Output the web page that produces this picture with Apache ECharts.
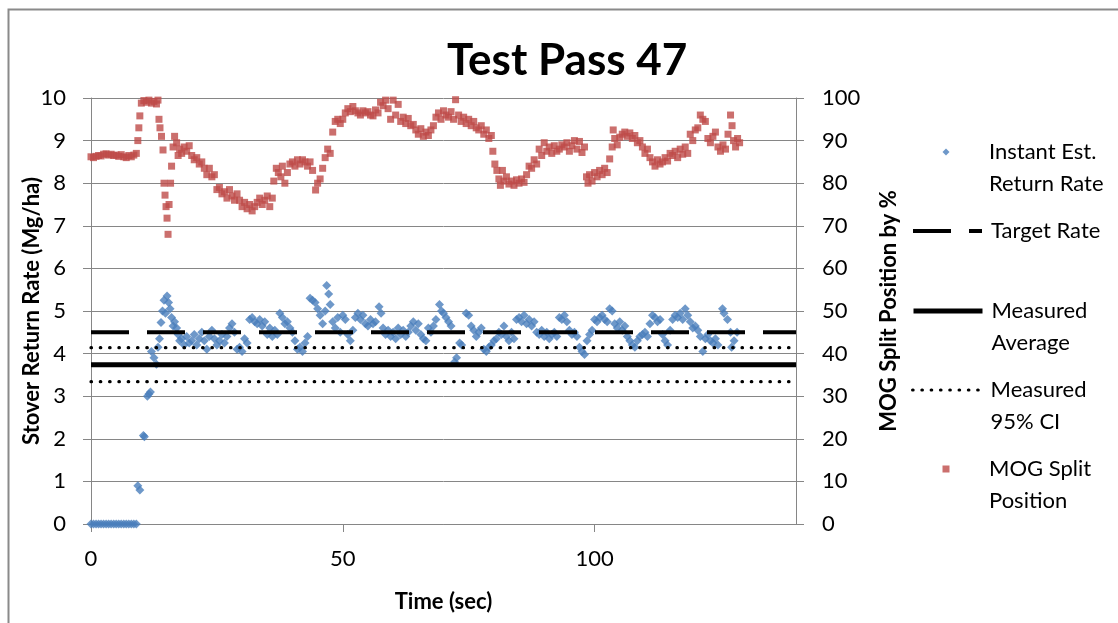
<!DOCTYPE html>
<html>
<head>
<meta charset="utf-8">
<script src="https://cdn.jsdelivr.net/npm/echarts@6/dist/echarts.min.js"></script>
<style>
html,body{margin:0;padding:0;background:#fff;}
#chart{width:1118px;height:623px;}
</style>
</head>
<body>
<div id="chart"></div>
<script>
// ---- Data ----
const chartTitle = 'Test Pass 47';
const xTickValues = [0, 50, 100];
const xRange = [0, 140];
const leftRange = [0, 10];
const rightRange = [0, 100];

const targetRate = 4.5;
const measuredAverage = 3.74;
const measuredCI = [3.34, 4.14];

// [time (s), stover return rate (Mg/ha)]
const instantRate = [
  [0,0],[0.5,0],[1,0],[1.5,0],[2,0],[2.5,0],[3,0],[3.5,0],[4,0],[4.5,0],[5,0],[5.5,0],[6,0],[6.5,0],[7,0],[7.5,0],[8,0],[8.5,0],[9,0],
  [9.3,0.9],[9.7,0.8],[10.4,2.08],[10.6,2.05],[11.2,3.0],[11.5,3.05],[11.8,3.1],
  [12.0,4.05],[12.5,3.9],[13.0,3.75],[13.3,4.15],[13.6,4.35],[13.9,4.73],[14.2,5.0],[14.5,5.25],[14.8,4.95],[15.1,5.35],[15.4,5.2],[15.7,5.05],
  [16.0,4.85],[16.3,4.65],[16.6,4.75],[17.0,4.6],[17.3,4.45],[17.6,4.3],[18,4.35],[18.5,4.2],[19,4.4],[19.5,4.25],[20,4.3],[20.5,4.45],
  [21,4.2],[21.5,4.35],[22,4.5],[22.5,4.3],[23,4.1],[23.5,4.4],[24,4.55],[24.5,4.35],[25,4.2],[25.5,4.3],[26,4.45],[26.5,4.25],[27,4.4],
  [27.5,4.6],[28,4.7],[28.5,4.5],[29,4.1],[29.5,4.15],[30,4.05],[30.5,4.35],[31,4.25],[31.5,4.8],[32,4.85],[32.5,4.75],[33,4.7],[33.5,4.8],
  [34,4.65],[34.5,4.75],[35,4.45],[35.5,4.6],[36,4.4],[36.5,4.55],[37,4.45],[37.5,4.95],[38,4.85],[38.5,4.7],[39,4.75],[39.5,4.6],[40,4.5],
  [40.5,4.3],[41,4.1],[41.5,4.15],[42,4.05],[42.5,4.25],[43,4.4],[43.5,5.3],[44,5.25],[44.5,5.2],[45,5.05],[45.5,4.9],[46,4.7],[46.5,5.0],
  [46.8,5.6],[47.2,5.4],[47.5,5.15],[48,4.75],[48.5,4.6],[49,4.85],[49.5,4.5],[50,4.9],[50.5,4.8],[51,4.45],[51.5,4.3],[52,4.55],[52.5,4.85],
  [53,4.95],[53.5,4.8],[54,4.9],[54.5,4.7],[55,4.65],[55.5,4.8],[56,4.7],[56.5,4.75],[57.2,5.1],[57.6,4.95],[58,4.6],[58.5,4.45],[59,4.55],
  [59.5,4.4],[60,4.5],[60.5,4.35],[61,4.6],[61.5,4.45],[62,4.55],[62.5,4.4],[63,4.5],[63.5,4.65],[64,4.75],[64.5,4.55],[65,4.7],[65.5,4.45],
  [66,4.35],[66.5,4.3],[67,4.6],[67.5,4.5],[68,4.65],[68.5,4.8],[69.2,5.15],[69.6,5.0],[70,4.95],[70.5,4.85],[71,4.75],[71.5,4.65],[72.2,3.8],
  [72.6,3.9],[73.2,4.25],[73.6,4.2],[74.5,4.95],[75,4.9],[75.5,4.65],[76,4.55],[76.5,4.4],[77,4.5],[77.5,4.6],[78,4.1],[78.5,4.05],[79,4.15],
  [79.5,4.2],[80,4.3],[80.5,4.35],[81,4.5],[81.5,4.45],[82,4.65],[82.5,4.4],[83,4.3],[83.5,4.5],[84,4.35],[84.5,4.8],[85,4.85],[85.5,4.75],
  [86,4.9],[86.5,4.7],[87,4.8],[87.5,4.65],[88,4.75],[88.5,4.5],[89,4.45],[89.5,4.55],[90,4.4],[90.5,4.5],[91,4.35],[91.5,4.45],[92,4.5],
  [92.5,4.4],[93,4.85],[93.5,4.8],[94,4.9],[94.5,4.75],[95,4.55],[95.5,4.45],[96,4.5],[96.5,4.4],[97,4.15],[97.5,4.05],[98,3.98],[98.5,4.3],
  [99,4.45],[99.5,4.55],[100,4.8],[100.5,4.75],[101,4.85],[101.5,4.9],[102,4.8],[102.5,4.75],[103,5.05],[103.5,5.0],[104,4.7],[104.5,4.6],
  [105,4.75],[105.5,4.55],[106,4.65],[106.5,4.4],[107,4.3],[107.5,4.2],[108,4.15],[108.5,4.3],[109,4.4],[109.5,4.45],[110,4.5],[110.5,4.4],
  [111,4.7],[111.5,4.9],[112,4.85],[112.5,4.75],[113,4.8],[113.5,4.45],[114,4.3],[114.5,4.2],[115,4.55],[115.5,4.8],[116,4.9],[116.5,4.85],
  [117,4.95],[117.5,4.8],[118,5.05],[118.5,4.9],[119,4.75],[119.5,4.6],[120,4.65],[120.5,4.55],[121,4.4],[121.5,4.05],[122,4.35],[122.5,4.45],
  [123,4.3],[123.5,4.25],[124,4.35],[124.5,4.2],[125.4,5.05],[125.7,4.95],[126.4,4.8],[127,4.5],[127.2,4.15],[127.7,4.3],[128.3,4.5]
];

// [time (s), MOG split position (%)]
const mogSplit = [
  [0,86.2],[0.5,86.0],[1,86.3],[1.5,86.5],[2,86.4],[2.5,86.8],[3,86.9],[3.5,86.6],[4,86.8],[4.5,86.5],[5,86.6],[5.5,86.3],[6,86.7],[6.5,86.2],
  [7,86.0],[7.5,86.5],[8,86.2],[8.5,86.6],[9,87.0],[9.3,90.0],[9.5,93.0],[9.7,95.8],[10,98.8],[10.5,99.4],[11,99.0],[11.5,99.5],[12,98.8],
  [12.5,99.2],[13,98.6],[13.3,99.5],[13.5,95.0],[13.7,93.0],[14,91.0],[14.3,87.8],[14.5,80.0],[14.7,77.2],[14.9,74.5],[15.1,71.8],[15.3,68.0],
  [15.5,75.0],[15.8,80.0],[16,84.0],[16.3,88.5],[16.6,91.0],[17,89.5],[17.3,86.5],[17.6,88.0],[18,87.0],[18.5,88.5],[19,87.5],[19.5,88.8],
  [20,86.5],[20.5,85.5],[21,86.0],[21.5,84.5],[22,85.0],[22.5,83.5],[23,82.0],[23.5,83.5],[24,81.5],[24.5,82.0],[25,78.5],[25.5,79.0],
  [26,77.5],[26.5,78.0],[27,76.5],[27.5,78.5],[28,77.0],[28.5,76.0],[29,77.5],[29.5,76.0],[30,74.5],[30.5,75.5],[31,74.0],[31.5,75.0],
  [32,73.5],[32.5,74.5],[33,75.5],[33.5,76.5],[34,75.0],[34.5,76.0],[35,77.0],[35.5,74.5],[36,76.5],[36.3,80.5],[36.8,83.5],[37.2,82.5],
  [37.7,81.5],[38,84.0],[38.5,80.0],[39,82.5],[39.5,84.5],[40,85.0],[40.5,84.0],[41,85.5],[41.5,84.5],[42,85.5],[42.5,85.0],[43,84.0],
  [43.5,85.0],[44,83.0],[44.6,78.4],[45,80.0],[45.5,81.0],[46,83.5],[46.5,86.0],[47,88.0],[47.5,87.0],[48,92.0],[48.5,94.5],[49,95.0],
  [49.5,94.0],[50,95.0],[50.5,96.5],[51,97.5],[51.5,96.8],[52,98.0],[52.5,97.0],[53,96.5],[53.5,96.0],[54,97.0],[54.5,96.5],[55,96.8],
  [55.5,96.0],[56,95.8],[56.5,97.2],[57,96.5],[57.5,99.0],[58,98.2],[58.5,99.5],[59,97.5],[59.5,95.0],[60,99.5],[60.5,96.0],[61,98.5],
  [61.5,94.5],[62,95.5],[62.5,94.0],[63,95.2],[63.5,93.5],[64,93.8],[64.5,92.5],[65,91.5],[65.5,92.8],[66,91.0],[66.5,92.0],[67,91.2],
  [67.5,92.5],[68,93.5],[68.5,95.5],[69,96.5],[69.5,95.0],[70,97.0],[70.5,96.0],[71,95.5],[71.5,96.8],[72,95.0],[72.4,99.6],[73,96.0],
  [73.5,94.5],[74,95.5],[74.5,94.0],[75,95.0],[75.5,93.5],[76,94.5],[76.5,93.0],[77,92.5],[77.5,93.5],[78,91.5],[78.5,92.5],[79,90.5],
  [79.5,91.2],[79.8,87.5],[80.2,84.5],[80.6,83.0],[81,81.0],[81.3,79.5],[81.7,83.0],[82,80.5],[82.5,81.5],[83,79.8],[83.5,80.5],[84,79.5],
  [84.5,80.8],[85,80.0],[85.5,81.0],[86,80.2],[86.5,82.0],[87,84.0],[87.5,83.5],[88,85.5],[88.5,84.5],[89,88.0],[89.5,86.5],[90,89.5],
  [90.5,87.5],[91,88.5],[91.5,87.0],[92,88.8],[92.5,87.5],[93,88.0],[93.5,89.0],[94,88.5],[94.5,89.5],[95,87.5],[95.5,88.8],[96,90.0],
  [96.5,88.0],[97,89.8],[97.5,87.2],[98,88.5],[98.4,81.5],[98.7,80.0],[99,82.0],[99.5,80.5],[100,82.5],[100.5,81.5],[101,83.0],[101.5,82.0],
  [102,83.5],[102.5,82.5],[103,85.7],[103.5,88.5],[103.7,92.5],[104,90.5],[104.5,89.0],[105,90.8],[105.5,91.5],[106,92.0],[106.5,91.0],
  [107,91.8],[107.5,90.5],[108,91.2],[108.5,89.5],[109,90.0],[109.5,88.5],[110,87.0],[110.5,88.0],[111,86.0],[111.5,85.0],[112,84.0],
  [112.5,85.5],[113,84.5],[113.5,85.0],[114,86.0],[114.5,85.2],[115,87.0],[115.5,86.5],[116,87.5],[116.5,86.0],[117,88.0],[117.5,86.8],
  [118,88.5],[118.5,87.0],[119,91.5],[119.5,90.0],[120,92.5],[120.5,93.0],[121,96.0],[121.5,95.0],[122,94.5],[122.5,90.5],[123,89.5],
  [123.5,91.0],[124,92.0],[124.5,88.5],[125,87.5],[125.5,89.0],[126,88.0],[126.5,91.5],[127,96.0],[127.3,93.5],[127.6,90.0],[128,88.5],
  [128.4,90.5],[128.8,89.5]
];

const seriesNames = {
  instant: 'Instant Est. Return Rate',
  target: 'Target Rate',
  average: 'Measured Average',
  ci: 'Measured 95% CI',
  mog: 'MOG Split Position'
};
const legendLabels = {
  'Instant Est. Return Rate': ' \nInstant Est.\nReturn Rate',
  'Target Rate': 'Target Rate',
  'Measured Average': ' \nMeasured\nAverage',
  'Measured 95% CI': ' \nMeasured\n95% CI',
  'MOG Split Position': ' \nMOG Split\nPosition'
};

// ---- Chart ----
const FONT = 'Lato, "Open Sans", sans-serif';
const GRID_COLOR = '#868686';
const BLUE = '#4A7EBB';
const RED = '#BE4B48';

const hLine = (v) => [[xRange[0], v], [xRange[1], v]];

function lineLegend(name, top, width) {
  return {
    show: true,
    data: [{ name: name }],
    left: 911,
    top: top,
    padding: 0,
    itemWidth: 69,
    itemHeight: 14,
    selectedMode: false,
    itemStyle: { opacity: 0 },
    lineStyle: { width: width },
    formatter: (n) => legendLabels[n],
    textStyle: { fontFamily: FONT, fontSize: 22, color: '#000', lineHeight: 32, padding: [0, 0, 0, 4] }
  };
}
function markerLegend(name, top, icon, size) {
  return {
    show: true,
    data: [{ name: name, icon: icon }],
    left: 946 - size / 2,
    top: top,
    padding: 0,
    itemWidth: size,
    itemHeight: size,
    selectedMode: false,
    formatter: (n) => legendLabels[n],
    textStyle: { fontFamily: FONT, fontSize: 22, color: '#000', lineHeight: 32, padding: [0, 0, 0, 989 - (946 + size / 2) - 5] }
  };
}

const chart = echarts.init(document.getElementById('chart'), null, { renderer: 'canvas' });
chart.setOption({
  animation: false,
  backgroundColor: '#fff',
  title: {
    text: chartTitle,
    left: 447,
    top: 39,
    padding: 0,
    textStyle: { fontFamily: FONT, fontSize: 44, fontWeight: 'bold', color: '#000' }
  },
  graphic: [{
    type: 'rect', silent: true, z: -10,
    shape: { x: 8.5, y: 9.5, width: 1300, height: 800 },
    style: { fill: 'none', stroke: '#8a8a8a', lineWidth: 2 }
  }],
  legend: [
    markerLegend(seriesNames.instant, 104, 'diamond', 7),
    lineLegend(seriesNames.target, 215, 4),
    lineLegend(seriesNames.average, 263, 5),
    lineLegend(seriesNames.ci, 342, 3.2),
    markerLegend(seriesNames.mog, 421, 'rect', 7)
  ],
  grid: { left: 91, right: 322, top: 98, bottom: 99, containLabel: false, outerBoundsMode: 'none' },
  xAxis: {
    type: 'value', min: xRange[0], max: xRange[1], interval: 50,
    name: 'Time (sec)', nameLocation: 'middle', nameGap: 67, nameMoveOverlap: false,
    nameTextStyle: { fontFamily: FONT, fontSize: 22, fontWeight: 'bold', color: '#000' },
    axisLine: { show: true, onZero: false, lineStyle: { color: GRID_COLOR, width: 1 } },
    axisTick: { show: true, length: 8, inside: false, customValues: xTickValues, lineStyle: { color: GRID_COLOR } },
    axisLabel: { customValues: xTickValues, margin: 24, fontFamily: FONT, fontSize: 22, color: '#000' },
    splitLine: { show: false }
  },
  yAxis: [{
    type: 'value', min: leftRange[0], max: leftRange[1], interval: 1, position: 'left',
    name: 'Stover Return Rate (Mg/ha)', nameLocation: 'middle', nameGap: 48, nameRotate: 90, nameMoveOverlap: false,
    nameTextStyle: { fontFamily: FONT, fontSize: 22, fontWeight: 'bold', color: '#000' },
    axisLine: { show: true, lineStyle: { color: GRID_COLOR, width: 1 } },
    axisTick: { show: true, length: 8, inside: false, lineStyle: { color: GRID_COLOR } },
    axisLabel: { margin: 25, fontFamily: FONT, fontSize: 22, color: '#000' },
    splitLine: { show: true, lineStyle: { color: GRID_COLOR, width: 1 } }
  }, {
    type: 'value', min: rightRange[0], max: rightRange[1], interval: 10, position: 'right',
    name: 'MOG Split Position by %', nameLocation: 'middle', nameGap: 82, nameRotate: 90, nameMoveOverlap: false,
    nameTextStyle: { fontFamily: FONT, fontSize: 22, fontWeight: 'bold', color: '#000' },
    axisLine: { show: true, lineStyle: { color: GRID_COLOR, width: 1 } },
    axisTick: { show: true, length: 8, inside: false, lineStyle: { color: GRID_COLOR } },
    axisLabel: { margin: 26, fontFamily: FONT, fontSize: 22, color: '#000' },
    splitLine: { show: false }
  }],
  series: [
    {
      name: seriesNames.target, type: 'line', data: hLine(targetRate), symbol: 'none', silent: true,
      itemStyle: { color: '#000' },
      lineStyle: { color: '#000', width: 4, type: [38, 18], cap: 'butt' }
    },
    {
      name: seriesNames.average, type: 'line', data: hLine(measuredAverage), symbol: 'none', silent: true,
      itemStyle: { color: '#000' },
      lineStyle: { color: '#000', width: 5, type: 'solid' }
    },
    {
      name: seriesNames.ci, type: 'line', data: hLine(measuredCI[1]), symbol: 'none', silent: true,
      itemStyle: { color: '#000' },
      lineStyle: { color: '#000', width: 3.2, type: [0.5, 8.8], cap: 'round' }
    },
    {
      name: seriesNames.ci, type: 'line', data: hLine(measuredCI[0]), symbol: 'none', silent: true,
      itemStyle: { color: '#000' },
      lineStyle: { color: '#000', width: 3.2, type: [0.5, 8.8], cap: 'round' }
    },
    {
      name: seriesNames.instant, type: 'scatter', data: instantRate, symbol: 'diamond', symbolSize: 9,
      itemStyle: { color: BLUE }
    },
    {
      name: seriesNames.mog, type: 'scatter', yAxisIndex: 1, data: mogSplit, symbol: 'rect', symbolSize: 7,
      itemStyle: { color: RED }
    }
  ]
});
</script>
</body>
</html>
